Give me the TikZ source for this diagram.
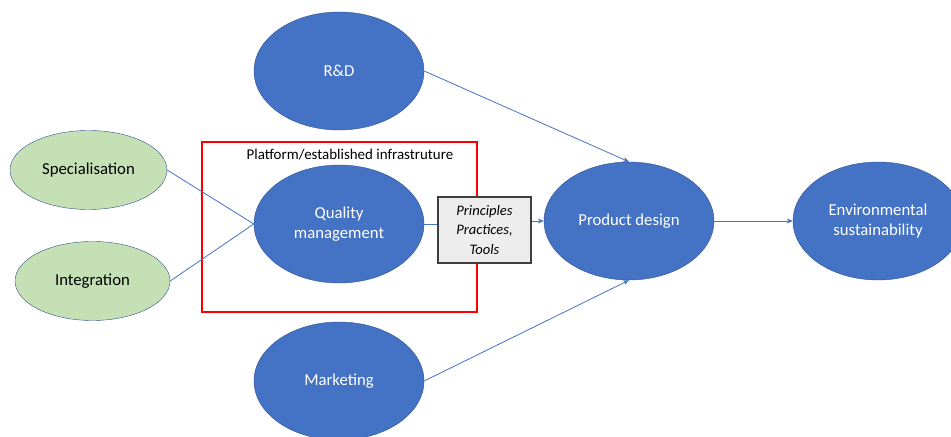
\documentclass[tikz,border=0pt]{standalone}
\usepackage{fontspec}
\setmainfont{Carlito}
\usetikzlibrary{shapes.geometric,arrows.meta}

\definecolor{ellFill}{HTML}{4472C4}
\definecolor{ellLine}{HTML}{2F528F}
\definecolor{greenFill}{HTML}{C5E0B4}
\definecolor{linkBlue}{HTML}{4472C4}
\definecolor{boxFill}{HTML}{EDEDED}
\definecolor{boxLine}{HTML}{3F3F3F}

\begin{document}
\begin{tikzpicture}[
  x=1bp, y=-1bp,
  bigell/.style={ellipse, draw=ellLine, fill=ellFill, text=white,
    minimum width=170bp, minimum height=118bp, inner sep=0pt,
    align=center, font=\fontsize{16.8}{19.5}\selectfont},
  greenell/.style={ellipse, draw=ellLine, fill=greenFill, text=black,
    minimum height=79bp, inner sep=0pt, font=\fontsize{16.8}{19.5}\selectfont},
  platform/.style={draw=red, line width=2bp, minimum width=275bp,
    minimum height=170bp, inner sep=0pt},
  tbox/.style={draw=boxLine, line width=1.1bp, fill=boxFill, align=center,
    minimum width=93bp, minimum height=66bp, inner sep=0pt,
    font=\fontsize{14.6}{19.5}\selectfont\itshape},
  link/.style={draw=linkBlue, line width=0.8bp},
  arr/.style={link, -{Stealth[length=6bp,width=5bp]}}
]
  % 画布大小
  \useasboundingbox (0,0) rectangle (951,437);
  \clip (0,0) rectangle (951,437);

  % 平台框及其标题
  \node[platform] (pf) at (339.5,227) {};
  \node[font=\fontsize{15}{18}\selectfont] (pflabel) at (350,155)
    {Platform/established infrastruture};

  % 中间一列:R&D、质量管理、市场
  \node[bigell] (rd) at (339,71) {R\&D};
  \node[bigell] (qm) at (339,224) {Quality\\management};
  \node[bigell] (mk) at (339,381) {Marketing};

  % 左侧两个绿色椭圆
  \node[greenell, minimum width=157bp] (sp) at (88.5,170) {Specialisation};
  \node[greenell, minimum width=155bp] (ig) at (92.5,281) {Integration};

  % 方框:原则、实践、工具
  \node[tbox] (tb) at (484.5,230) {Principles\\Practices,\\Tools};

  % 右侧:产品设计、环境可持续
  \node[bigell] (pd) at (629,221) {Product design};
  \node[bigell] (es) at (878,221) {Environmental\\sustainability};

  % 连线
  \draw[link] (sp.east) -- (qm.west);
  \draw[link] (ig.east) -- (qm.west);
  \draw[link] (qm.east) -- (tb.west |- qm.east);
  \draw[arr] (tb.east |- pd.west) -- (pd.west);
  \draw[arr] (pd.east) -- (es.west);
  \draw[arr] (rd.east) -- (pd.north);
  \draw[arr] (mk.east) -- (pd.south);
\end{tikzpicture}
\end{document}
